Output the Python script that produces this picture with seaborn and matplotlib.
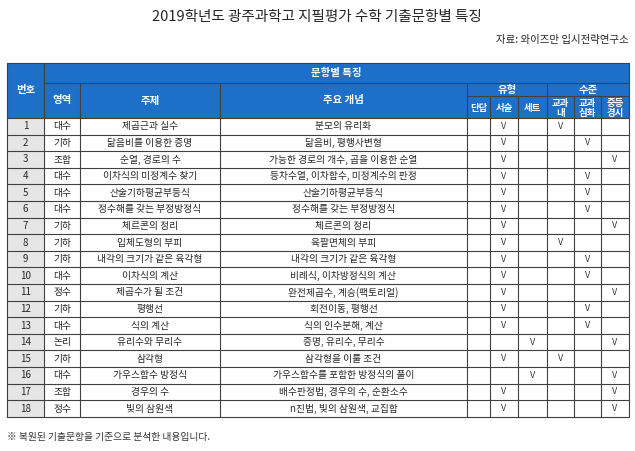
import matplotlib
matplotlib.use("Agg")
import matplotlib.pyplot as plt
from matplotlib.patches import Rectangle
import seaborn as sns

sns.set_style("white")
plt.rcParams['font.family'] = ['Noto Sans CJK KR', 'DejaVu Sans']

title = "2019학년도 광주과학고 지필평가 수학 기출문항별 특징"
source = "자료: 와이즈만 입시전략연구소"
footnote = "※ 복원된 기출문항을 기준으로 분석한 내용입니다."

areas = ["대수", "기하", "조합", "대수", "대수", "대수", "기하", "기하", "기하",
         "대수", "정수", "기하", "대수", "논리", "기하", "대수", "조합", "정수"]
topics = ["제곱근과 실수", "닮음비를 이용한 증명", "순열, 경로의 수", "이차식의 미정계수 찾기",
          "산술기하평균부등식", "정수해를 갖는 부정방정식", "체르콘의 정리", "입체도형의 부피",
          "내각의 크기가 같은 육각형", "이차식의 계산", "제곱수가 될 조건", "평행선",
          "식의 계산", "유리수와 무리수", "삼각형", "가우스함수 방정식", "경우의 수", "빛의 삼원색"]
concepts = ["분모의 유리화", "닮음비, 평행사변형", "가능한 경로의 개수, 곱을 이용한 순열",
            "등차수열, 이차함수, 미정계수의 판정", "산술기하평균부등식", "정수해를 갖는 부정방정식",
            "체르콘의 정리", "육팔면체의 부피", "내각의 크기가 같은 육각형", "비례식, 이차방정식의 계산",
            "완전제곱수, 계승(팩토리얼)", "회전이동, 평행선", "식의 인수분해, 계산", "증명, 유리수, 무리수",
            "삼각형을 이룰 조건", "가우스함수를 포함한 방정식의 풀이", "배수판정법, 경우의 수, 순환소수",
            "n진법, 빛의 삼원색, 교집합"]
# type: 0 단답, 1 서술, 2 세트 ; level: 3 교과내, 4 교과심화, 5 중등경시
type_col = [1, 1, 1, 1, 1, 1, 1, 1, 1, 1, 1, 1, 1, 2, 1, 2, 1, 1]
level_col = [3, 4, 5, 4, 4, 4, 5, 3, 4, 4, 5, 4, 4, 5, 3, 5, 5, 5]

blue = "#1E6FC8"
line = "#404040"
xs = [7, 44, 80, 220, 467, 490, 518, 547, 574, 601, 629]
y_top, y_h1, y_h2, y_body = 63, 83, 96, 118
row_h = 16.6

fig = plt.figure(figsize=(6.35, 4.51), dpi=100)
ax = fig.add_axes([0, 0, 1, 1])
ax.set_xlim(0, 635)
ax.set_ylim(451, 0)
ax.axis("off")

ax.text(317, 17, title, ha="center", va="center", fontsize=10.5)
ax.text(629, 40, source, ha="right", va="center", fontsize=7.5)
ax.text(7, 437, footnote, ha="left", va="center", fontsize=7, color="#333333")

# header background
ax.add_patch(Rectangle((xs[0], y_top), xs[-1] - xs[0], y_body - y_top, facecolor=blue, edgecolor="none"))
hk = dict(ha="center", va="center", color="white", fontsize=7.5, fontweight="bold")
ax.text((xs[0] + xs[1]) / 2, (y_top + y_body) / 2, "번호", **hk)
ax.text((xs[1] + xs[-1]) / 2, (y_top + y_h1) / 2, "문항별 특징", **hk)
for i, lab in enumerate(["영역", "주제", "주요 개념"]):
    ax.text((xs[i + 1] + xs[i + 2]) / 2, (y_h1 + y_body) / 2, lab, **hk)
ax.text((xs[4] + xs[7]) / 2, (y_h1 + y_h2) / 2, "유형", **hk)
ax.text((xs[7] + xs[10]) / 2, (y_h1 + y_h2) / 2, "수준", **hk)
subs = ["단답", "서술", "세트", "교과\n내", "교과\n심화", "중등\n경시"]
sk = dict(hk, fontsize=6.8)
for i, lab in enumerate(subs):
    ax.text((xs[4 + i] + xs[5 + i]) / 2, (y_h2 + y_body) / 2 + 1, lab, linespacing=0.95, **sk)

# header lines
lw = 0.8
ax.plot([xs[0], xs[-1]], [y_top, y_top], color=line, lw=lw)
ax.plot([xs[1], xs[-1]], [y_h1, y_h1], color=line, lw=lw)
ax.plot([xs[4], xs[-1]], [y_h2, y_h2], color=line, lw=lw)
for k, x in enumerate(xs):
    if k in (0, 1, 10):
        ax.plot([x, x], [y_top, y_body], color=line, lw=lw)
    elif k in (2, 3, 4, 7):
        ax.plot([x, x], [y_h1, y_body], color=line, lw=lw)
    else:
        ax.plot([x, x], [y_h2, y_body], color=line, lw=lw)

# body
for r in range(len(areas)):
    y0 = y_body + r * row_h
    yc = y0 + row_h / 2
    ax.add_patch(Rectangle((xs[0], y0), xs[1] - xs[0], row_h, facecolor="#E6E6E6", edgecolor="none"))
    ax.plot([xs[0], xs[-1]], [y0, y0], color=line, lw=lw)
    ax.text((xs[0] + xs[1]) / 2, yc, str(r + 1), ha="center", va="center", fontsize=7)
    for i, val in enumerate([areas[r], topics[r], concepts[r]]):
        ax.text((xs[i + 1] + xs[i + 2]) / 2, yc, val, ha="center", va="center", fontsize=7)
    for c in (type_col[r], level_col[r]):
        ax.text((xs[4 + c] + xs[5 + c]) / 2, yc, "V", ha="center", va="center", fontsize=6.5, color="#333333")
y_end = y_body + len(areas) * row_h
ax.plot([xs[0], xs[-1]], [y_end, y_end], color=line, lw=lw)
for x in xs:
    ax.plot([x, x], [y_body, y_end], color=line, lw=lw)

fig.savefig("out.png", dpi=100)
